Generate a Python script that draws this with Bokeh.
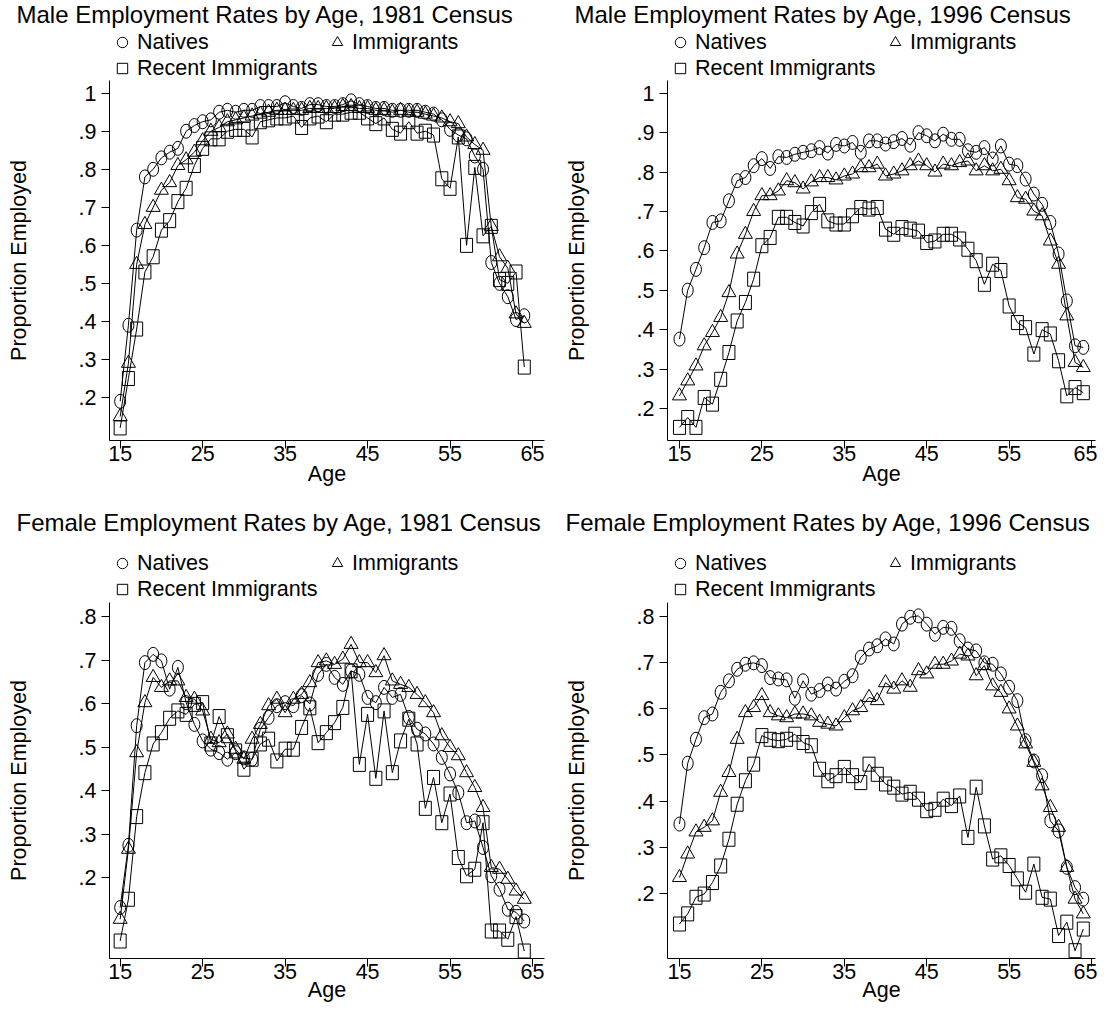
from bokeh.plotting import figure
from bokeh.layouts import column, row
from bokeh.models import (Range1d, FixedTicker, CustomJSTickFormatter, Legend,
                          LegendItem, ColumnDataSource)
from bokeh.embed import file_html
from bokeh.resources import INLINE

ages = list(range(15, 65))

# ---------------- Male 1981 ----------------
m81_natives = [.19, .39, .64, .78, .80, .83, .845, .855, .90, .915,
               .925, .93, .95, .955, .95, .955, .955, .965, .965, .965,
               .975, .965, .96, .97, .97, .965, .965, .97, .98, .97,
               .965, .96, .96, .955, .955, .955, .955, .95, .945, .93,
               .905, .89, .88, .835, .80, .555, .50, .465, .405, .415]
m81_immigrants = [.15, .29, .55, .655, .70, .745, .765, .81, .825, .845,
                  .875, .90, .91, .925, .93, .935, .94, .945, .95, .955,
                  .955, .955, .955, .96, .96, .96, .96, .965, .965, .96,
                  .96, .955, .955, .95, .955, .95, .95, .945, .94, .935,
                  .925, .92, .885, .865, .85, .65, .57, .54, .42, .395]
m81_recent = [.12, .25, .38, .53, .57, .64, .665, .715, .75, .81,
              .855, .88, .88, .90, .905, .905, .885, .925, .93, .935,
              .935, .94, .91, .935, .94, .925, .945, .945, .95, .95,
              .935, .92, .935, .905, .895, .925, .895, .90, .89, .775,
              .75, .885, .60, .805, .625, .65, .51, .50, .53, .28]

# ---------------- Male 1996 ----------------
m96_natives = [.376, .50, .553, .608, .672, .676, .727, .778, .786, .816,
               .834, .809, .839, .837, .845, .85, .854, .862, .848, .87,
               .866, .875, .85, .879, .879, .871, .877, .885, .868, .90,
               .892, .879, .896, .883, .883, .854, .85, .862, .833, .866,
               .82, .816, .782, .744, .718, .672, .592, .473, .359, .355]
m96_immigrants = [.232, .27, .308, .359, .393, .431, .494, .592, .642, .70,
                  .74, .74, .752, .778, .773, .757, .775, .786, .786, .78,
                  .79, .795, .811, .811, .82, .79, .795, .803, .816, .828,
                  .816, .80, .82, .816, .824, .828, .803, .816, .803, .807,
                  .778, .735, .731, .701, .689, .625, .566, .435, .317, .304]
m96_recent = [.152, .177, .152, .228, .211, .274, .342, .422, .469, .528,
              .613, .634, .685, .685, .672, .663, .697, .718, .676, .668,
              .668, .689, .71, .706, .71, .655, .642, .659, .655, .65,
              .621, .625, .642, .642, .63, .604, .575, .515, .566, .55,
              .46, .418, .405, .338, .40, .389, .321, .232, .253, .24]

# ---------------- Female 1981 ----------------
f81_natives = [.131, .274, .549, .694, .713, .698, .633, .683, .602, .552,
               .514, .495, .487, .472, .487, .475, .472, .541, .568, .595,
               .602, .595, .618, .599, .667, .69, .66, .644, .675, .667,
               .614, .602, .637, .614, .621, .568, .541, .53, .507, .476,
               .438, .395, .326, .33, .269, .204, .173, .127, .12, .10]
f81_immigrants = [.104, .265, .487, .602, .66, .637, .652, .652, .614, .61,
                  .583, .518, .51, .53, .495, .472, .518, .552, .595, .61,
                  .579, .61, .621, .648, .694, .698, .69, .702, .736, .694,
                  .694, .671, .71, .652, .644, .637, .621, .602, .579, .526,
                  .499, .48, .441, .407, .361, .223, .219, .196, .169, .15]
f81_recent = [.054, .15, .34, .441, .507, .533, .566, .583, .575, .598,
              .602, .507, .57, .526, .491, .449, .472, .507, .518, .468,
              .495, .495, .545, .59, .51, .533, .556, .591, .675, .46,
              .575, .428, .583, .441, .514, .564, .507, .359, .43, .326,
              .392, .246, .204, .219, .326, .077, .077, .058, .11, .031]

# ---------------- Female 1996 ----------------
f96_natives = [.35, .482, .534, .581, .589, .636, .661, .686, .697, .70,
               .694, .668, .665, .663, .623, .661, .632, .64, .654, .643,
               .66, .672, .712, .73, .737, .752, .741, .784, .799, .802,
               .784, .762, .777, .775, .748, .73, .726, .70, .697, .676,
               .647, .618, .531, .487, .455, .357, .335, .256, .212, .187]
f96_immigrants = [.234, .285, .333, .343, .357, .419, .462, .534, .592, .603,
                  .629, .592, .585, .581, .589, .589, .585, .571, .567, .563,
                  .581, .596, .603, .625, .618, .657, .643, .661, .647, .683,
                  .676, .697, .697, .704, .719, .715, .672, .694, .65, .636,
                  .60, .563, .524, .484, .433, .386, .343, .256, .187, .155]
f96_recent = [.133, .155, .191, .198, .223, .259, .317, .393, .444, .48,
              .542, .534, .531, .534, .545, .527, .52, .469, .444, .455,
              .473, .455, .44, .48, .458, .437, .43, .415, .419, .404,
              .379, .382, .404, .39, .411, .321, .43, .346, .274, .281,
              .26, .231, .202, .263, .191, .187, .108, .137, .075, .122]

x_ticks = [15, 25, 35, 45, 55, 65]
y_ticks_male = [0.2, 0.3, 0.4, 0.5, 0.6, 0.7, 0.8, 0.9, 1.0]
y_ticks_female = [0.2, 0.3, 0.4, 0.5, 0.6, 0.7, 0.8]
series_labels = ["Natives", "Immigrants", "Recent Immigrants"]

FONT = "Liberation Sans"
FS = "21.5px"


def make_header(title, src, width, height, b_top, title_align_v,
                title_standoff, title_offset):
    """Title + legend block sitting above a panel."""
    h = figure(width=width, height=height, output_backend="svg",
               toolbar_location=None, title=title,
               x_axis_location=None, y_axis_location=None,
               x_range=Range1d(0, 1), y_range=Range1d(0, 1),
               min_border_left=109, min_border_right=0,
               min_border_top=b_top, min_border_bottom=0)
    h.outline_line_color = None
    h.grid.visible = False
    h.background_fill_color = "white"
    h.border_fill_color = "white"

    # legend keys: same data, zero size, only the legend draws their marker
    lg_nat = h.scatter(x="age", y="nat", source=src, marker="circle", size=0,
                       fill_color=None, line_color="black", line_width=1)
    lg_imm = h.scatter(x="age", y="imm", source=src, marker="triangle", size=0,
                       fill_color=None, line_color="black", line_width=1)
    lg_rec = h.scatter(x="age", y="rec", source=src, marker="square", size=0,
                       fill_color=None, line_color="black", line_width=1)
    legend = Legend(items=[LegendItem(label=series_labels[0], renderers=[lg_nat]),
                           LegendItem(label=series_labels[1], renderers=[lg_imm]),
                           LegendItem(label=series_labels[2], renderers=[lg_rec])],
                    orientation="horizontal", ncols=2,
                    location="top_left", margin=0, padding=0, spacing=0,
                    glyph_width=26, glyph_height=26, label_height=26,
                    label_width=187, label_standoff=2,
                    label_text_font=FONT, label_text_font_size=FS,
                    label_text_color="black",
                    border_line_color=None, background_fill_alpha=0)
    h.add_layout(legend, "center")

    h.title.text_font = FONT
    h.title.text_font_size = "24px"
    h.title.text_font_style = "normal"
    h.title.text_color = "black"
    h.title.align = "left"
    h.title.vertical_align = title_align_v
    h.title.offset = title_offset
    h.title.standoff = title_standoff
    return h


def make_plot(src, width, height, xr, yr, yticks, b_bottom, b_right,
              xlab_standoff):
    p = figure(width=width, height=height, output_backend="svg",
               toolbar_location=None, title_location=None,
               x_range=Range1d(*xr), y_range=Range1d(*yr),
               min_border_left=108, min_border_right=b_right,
               min_border_top=0, min_border_bottom=b_bottom)
    p.outline_line_color = None
    p.grid.visible = False
    p.background_fill_color = "white"
    p.border_fill_color = "white"

    for col in ("nat", "imm", "rec"):
        p.line("age", col, source=src, line_color="black", line_width=1)
    p.ellipse(x="age", y="nat", width=11, height=14, width_units="screen",
              height_units="screen", fill_color=None, line_color="black",
              line_width=1, source=src)
    p.scatter(x="age", y="imm", marker="triangle", size=14, fill_color=None,
              line_color="black", line_width=1, source=src)
    p.rect(x="age", y="rec", width=12, height=14, width_units="screen",
           height_units="screen", fill_color=None, line_color="black",
           line_width=1, source=src)

    xa = p.xaxis[0]
    xa.ticker = FixedTicker(ticks=x_ticks)
    xa.axis_label = "Age"
    xa.axis_label_text_font = FONT
    xa.axis_label_text_font_size = FS
    xa.axis_label_text_font_style = "normal"
    xa.axis_label_text_color = "black"
    xa.major_label_text_font = FONT
    xa.major_label_text_font_size = FS
    xa.major_label_text_color = "black"
    xa.major_tick_in = 0
    xa.major_tick_out = 8
    xa.minor_tick_line_color = None
    xa.major_label_standoff = -3
    xa.axis_label_standoff = xlab_standoff
    xa.axis_line_color = "black"
    xa.major_tick_line_color = "black"

    ya = p.yaxis[0]
    ya.ticker = FixedTicker(ticks=yticks)
    ya.formatter = CustomJSTickFormatter(
        code="return tick > 0.99 ? tick.toFixed(0) : tick.toFixed(1).replace(/^0/, '');")
    ya.axis_label = "Proportion Employed"
    ya.axis_label_text_font = FONT
    ya.axis_label_text_font_size = FS
    ya.axis_label_text_font_style = "normal"
    ya.axis_label_text_color = "black"
    ya.major_label_text_font = FONT
    ya.major_label_text_font_size = FS
    ya.major_label_text_color = "black"
    ya.major_label_orientation = "horizontal"
    ya.major_tick_in = 0
    ya.major_tick_out = 8
    ya.minor_tick_line_color = None
    ya.major_label_standoff = 5
    ya.axis_label_standoff = 45
    ya.axis_line_color = "black"
    ya.major_tick_line_color = "black"
    return p


def make_panel(title, nat, imm, rec, width, head_h, plot_h, xr, yr, yticks,
               head_top, title_align_v, title_standoff, title_offset,
               b_bottom, b_right, xlab_standoff):
    src = ColumnDataSource(dict(age=ages, nat=nat, imm=imm, rec=rec))
    h = make_header(title, src, width, head_h, head_top, title_align_v,
                    title_standoff, title_offset)
    p = make_plot(src, width, plot_h, xr, yr, yticks, b_bottom, b_right,
                  xlab_standoff)
    return column(h, p)


c1 = make_panel("Male Employment Rates by Age, 1981 Census",
                m81_natives, m81_immigrants, m81_recent,
                558, 80, 412, (13.706, 66.452), (0.0870, 1.0334), y_ticks_male,
                28, "top", 0, -93, 52, 14, -2)
c2 = make_panel("Male Employment Rates by Age, 1996 Census",
                m96_natives, m96_immigrants, m96_recent,
                539, 80, 412, (13.547, 65.48), (0.1187, 1.0322), y_ticks_male,
                28, "top", 0, -93, 52, 2, -2)
c3 = make_panel("Female Employment Rates by Age, 1981 Census",
                f81_natives, f81_immigrants, f81_recent,
                558, 110, 406, (13.706, 66.452), (0.0138, 0.8322), y_ticks_female,
                58, "top", 26, -93, 50, 14, -4)
c4 = make_panel("Female Employment Rates by Age, 1996 Census",
                f96_natives, f96_immigrants, f96_recent,
                539, 110, 406, (13.547, 65.48), (0.0581, 0.831), y_ticks_female,
                58, "top", 26, -102, 50, 2, -4)

layout = column(row(c1, c2), row(c3, c4))
open("out.html", "w").write(file_html(layout, INLINE, "Employment Rates by Age"))
